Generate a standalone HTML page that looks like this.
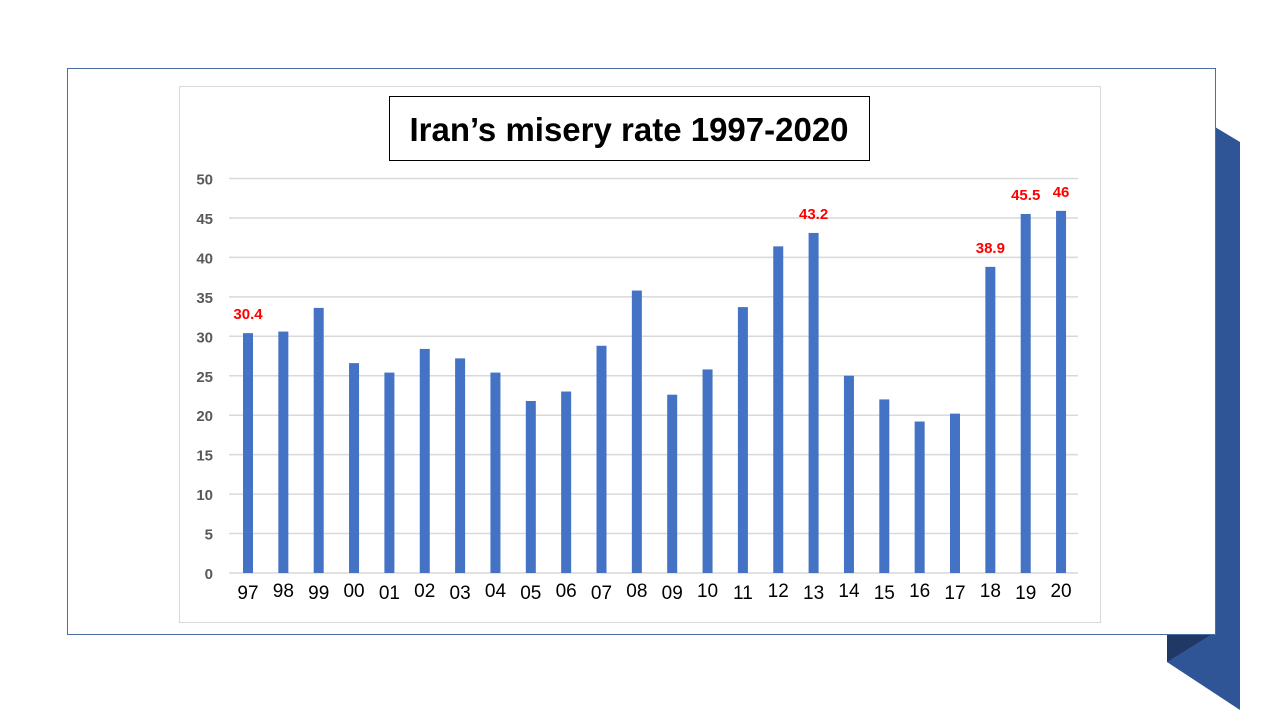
<!DOCTYPE html>
<html><head><meta charset="utf-8"><style>
body{margin:0;width:1280px;height:720px;background:#fff;overflow:hidden;font-family:"Liberation Sans",sans-serif;}
</style></head><body>
<svg width="1280" height="720">
<polygon points="1215,127 1240,142 1240,710 1167,662 1167,634 1215,634" fill="#2f5597"/>
<polygon points="1167,634 1212,634 1167,662" fill="#203864"/>
<rect x="67.5" y="68.5" width="1148" height="566" fill="#fff" stroke="#4a6fa5" stroke-width="1"/>
<rect x="179.5" y="86.5" width="921" height="536" fill="#fff" stroke="#d9d9d9" stroke-width="1"/>
<rect x="389.5" y="96.5" width="480" height="64" fill="#fff" stroke="#000" stroke-width="1"/>
<text x="629" y="141" text-anchor="middle" font-size="33" font-weight="bold" fill="#000">Iran’s misery rate 1997-2020</text>
<g id="g"></g>
</svg>
<script>
const categories=["97","98","99","00","01","02","03","04","05","06","07","08","09","10","11","12","13","14","15","16","17","18","19","20"];
const values=[30.4,30.6,33.6,26.6,25.4,28.4,27.2,25.4,21.8,23.0,28.8,35.8,22.6,25.8,33.7,41.4,43.1,25.0,22.0,19.2,20.2,38.8,45.5,45.9];
const labels=["30.4","","","","","","","","","","","","","","","","43.2","","","","","38.9","45.5","46"];
const yTicks=[0,5,10,15,20,25,30,35,40,45,50];
const g=document.getElementById('g');const NS="http://www.w3.org/2000/svg";
const y=v=>573-v*7.89;
const x=i=>248+i*35.35;
function mk(t,a){const e=document.createElementNS(NS,t);for(const k in a)e.setAttribute(k,a[k]);g.appendChild(e);return e;}
yTicks.forEach(t=>{
 const l=mk('line',{x1:229,x2:1078,y1:y(t),y2:y(t),stroke:'#d9d9d9','stroke-width':1.5});
 
 
 const tx=mk('text',{x:213,y:y(t)+6,'text-anchor':'end','font-size':15,'font-weight':'bold',fill:'#595959'});tx.textContent=t;
 
 
});
categories.forEach((c,i)=>{
 const r=mk('rect',{x:x(i)-5,y:y(values[i]),width:10,height:573-y(values[i]),fill:'#4472c4'});
 
 
 const tx=mk('text',{x:x(i),y:598+(i%2?-1:1)*1,'text-anchor':'middle','font-size':19,fill:'#000'});tx.textContent=c;
 
 
 if(labels[i]){const d=mk('text',{x:x(i),y:y(values[i])-14,'text-anchor':'middle','font-size':15,'font-weight':'bold',fill:'#ff0000'});d.textContent=labels[i];
 
 }
});
</script>
</body></html>
